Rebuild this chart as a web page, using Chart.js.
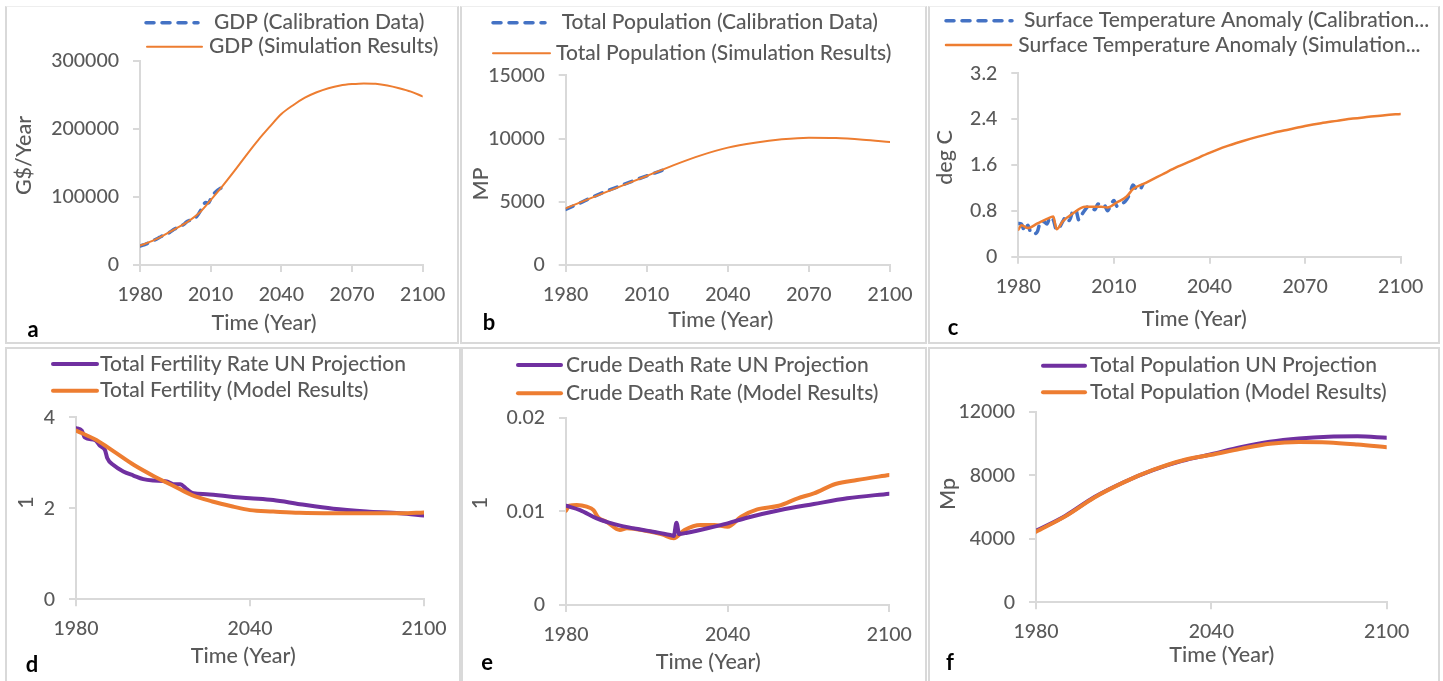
<!DOCTYPE html>
<html>
<head>
<meta charset="utf-8">
<title>Calibration and projection panels</title>
<script src="https://cdn.jsdelivr.net/npm/chart.js@4.4.1/dist/chart.umd.min.js"></script>
<style>
  html, body { margin: 0; padding: 0; background: #fff; }
  body { width: 1443px; height: 681px; position: relative; overflow: hidden; }
  .panel { position: absolute; box-sizing: border-box; border: 2px solid #d9d9d9; }
  .panel.top { border-top: 1px solid #eeeeee; }
  canvas { position: absolute; }
</style>
</head>
<body>
<script>
/* ---- data ---- */

// a: GDP (G$/Year)
const gdpDataYears = [1980, 1981, 1982, 1983, 1984, 1985, 1986, 1987, 1988, 1989, 1990, 1991, 1992, 1993, 1994, 1995, 1996, 1997, 1998,
  1999, 2000, 2001, 2002, 2003, 2004, 2005, 2006, 2007, 2008, 2009, 2010, 2011, 2012, 2013, 2014, 2015, 2016];
const gdpData = [28000, 29000, 30000, 31500, 33000, 35000, 36500, 38000, 40000, 42000, 43500, 44500, 46500, 49000, 51500, 53500, 55500,
  57500, 58500, 61000, 64000, 65500, 66500, 67500, 71000, 76000, 82000, 89000, 92000, 91000, 97000, 103000, 107000, 110000, 112500, 114000, 117000];
const gdpSimYears = [1980, 1985, 1990, 1995, 2000, 2005, 2010, 2015, 2020, 2025, 2030, 2035, 2040, 2045, 2050, 2055, 2060, 2065, 2070,
  2075, 2080, 2085, 2090, 2095, 2100];
const gdpSim = [28500, 35000, 43500, 53000, 63000, 76000, 95500, 116000, 138000, 161000, 183000, 203000, 222000, 235000, 246000,
  254000, 260000, 264000, 266000, 267000, 266500, 264000, 260000, 255000, 248000];

// b: total population (MP)
const popDataYears = [1980, 1985, 1990, 1995, 2000, 2005, 2010, 2015, 2018];
const popData = [4400, 4870, 5380, 5830, 6250, 6660, 7050, 7430, 7650];
const popSimYears = [1980, 1990, 2000, 2010, 2020, 2030, 2040, 2050, 2060, 2070, 2080, 2090, 2100];
const popSim = [4480, 5350, 6200, 7040, 7900, 8670, 9280, 9670, 9940, 10070, 10040, 9910, 9730];

// c: surface temperature anomaly (deg C)
const tempDataYears = [1980, 1981, 1982, 1983, 1984, 1985, 1986, 1987, 1988, 1989, 1990, 1991, 1992, 1993, 1994, 1995, 1996, 1997,
  1998, 1999, 2000, 2001, 2002, 2003, 2004, 2005, 2006, 2007, 2008, 2009, 2010, 2011, 2012, 2013, 2014, 2015, 2016, 2017, 2018, 2019];
const tempData = [0.58, 0.57, 0.44, 0.55, 0.41, 0.40, 0.44, 0.61, 0.61, 0.57, 0.69, 0.64, 0.47, 0.52, 0.62, 0.70, 0.63, 0.78, 0.82,
  0.64, 0.74, 0.82, 0.88, 0.86, 0.82, 0.92, 0.88, 0.90, 0.80, 0.90, 0.98, 0.88, 0.92, 0.94, 1.00, 1.10, 1.25, 1.18, 1.16, 1.25];
const tempSimYears = [1980, 1981, 1983, 1986, 1989, 1991, 1992, 1994, 1997, 2001, 2006, 2008, 2011, 2014, 2016, 2020, 2025, 2030,
  2035, 2040, 2045, 2050, 2055, 2060, 2065, 2070, 2075, 2080, 2085, 2090, 2095, 2100];
const tempSim = [0.47, 0.55, 0.50, 0.58, 0.66, 0.70, 0.48, 0.62, 0.75, 0.87, 0.87, 0.86, 0.95, 1.05, 1.18, 1.29, 1.43, 1.57,
  1.69, 1.81, 1.92, 2.01, 2.09, 2.16, 2.22, 2.28, 2.33, 2.37, 2.41, 2.44, 2.47, 2.49];

// d: total fertility rate (1)
const tfrUnYears = [1980, 1982, 1983, 1986.6, 1988.3, 1990, 1990.8, 1992.9, 1996.3, 1999.8, 2003.2, 2006.7, 2011.3, 2013.6, 2015.9,
  2018.2, 2020.5, 2025, 2034.3, 2040, 2048, 2057.2, 2068.7, 2080.2, 2091.7, 2100];
const tfrUn = [3.76, 3.71, 3.56, 3.50, 3.37, 3.28, 3.10, 2.95, 2.81, 2.72, 2.64, 2.61, 2.59, 2.53, 2.53, 2.42, 2.33, 2.31, 2.25,
  2.22, 2.18, 2.09, 1.99, 1.93, 1.89, 1.84];
const tfrModelYears = [1980, 1987, 1993, 2000, 2007, 2014, 2020, 2027, 2034, 2040, 2048, 2057, 2069, 2080, 2092, 2100];
const tfrModel = [3.71, 3.50, 3.25, 2.95, 2.70, 2.48, 2.29, 2.15, 2.04, 1.96, 1.93, 1.90, 1.89, 1.89, 1.89, 1.91];

// e: crude death rate (1)
const cdrUnYears = [1980, 1985.2, 1991.4, 2000.1, 2010, 2018.7, 2020, 2021, 2022, 2025, 2032.5, 2040, 2047.2, 2059.6, 2072, 2084.4, 2100];
const cdrUn = [0.0106, 0.01014, 0.00925, 0.00847, 0.00794, 0.00747, 0.00737, 0.00879, 0.00758, 0.00772, 0.00819, 0.00872, 0.00932,
  0.01014, 0.01078, 0.01139, 0.01189];
const cdrModelYears = [1980, 1981.2, 1984, 1987.7, 1990.2, 1992, 1995, 2000, 2002.6, 2010, 2015.6, 2020, 2024, 2030, 2035, 2040,
  2045, 2051, 2059, 2066, 2072, 2080, 2088, 2100];
const cdrModel = [0.01007, 0.0106, 0.01068, 0.0105, 0.01014, 0.00932, 0.0089, 0.00801, 0.00819, 0.0079, 0.00754, 0.00712, 0.00801,
  0.00854, 0.00854, 0.00836, 0.00943, 0.01021, 0.0106, 0.01139, 0.01192, 0.01292, 0.01335, 0.01388];

// f: total population, UN projection vs model (Mp)
const popUnYears = [1980, 1990, 2000, 2010, 2020, 2030, 2040, 2050, 2060, 2070, 2080, 2090, 2100];
const popUn = [4500, 5440, 6630, 7560, 8320, 8900, 9320, 9760, 10110, 10320, 10430, 10450, 10360];
const popModelYears = popUnYears;
const popModel = [4440, 5410, 6600, 7550, 8330, 8930, 9290, 9660, 9980, 10090, 10060, 9930, 9760];

// tick values
const xTicksFine = [1980, 2010, 2040, 2070, 2100];
const xTicksCoarse = [1980, 2040, 2100];
const gdpTicks = [0, 100000, 200000, 300000];
const popTicks = [0, 5000, 10000, 15000];
const tempTicks = [0, 0.8, 1.6, 2.4, 3.2];
const tfrTicks = [0, 2, 4];
const cdrTicks = [0, 0.01, 0.02];
const popUnTicks = [0, 4000, 8000, 12000];

/* ---- styling ---- */
const BLUE = '#4472c4';
const ORANGE = '#ed7d31';
const PURPLE = '#7030a0';
const TEXT = '#595959';
const AXIS = '#d9d9d9';
const FONT = 'Lato';
const WEIGHT = 500;

const pts = (xs, ys) => xs.map((x, i) => ({ x, y: ys[i] }));

/* Legend, axis titles and panel letter, drawn at fixed page positions. */
const panelText = {
  id: 'panelText',
  afterDraw(chart, args, o) {
    const ctx = chart.ctx;
    const ox = o.ox, oy = o.oy;
    ctx.save();
    ctx.font = `${WEIGHT} 21px ${FONT}`;
    ctx.textBaseline = 'middle';
    chart.data.datasets.forEach((ds, i) => {
      const it = o.legend[i];
      ctx.beginPath();
      ctx.strokeStyle = ds.borderColor;
      ctx.lineWidth = ds.borderWidth;
      ctx.lineCap = ds.borderCapStyle;
      ctx.setLineDash(ds.borderDash || []);
      ctx.moveTo(it.x1 - ox, it.y - oy);
      ctx.lineTo(it.x2 - ox, it.y - oy);
      ctx.stroke();
      ctx.setLineDash([]);
      // Excel-style truncation: drop whole words and add an ellipsis
      let text = ds.label;
      if (o.maxRight && ctx.measureText(text).width > o.maxRight - it.tx) {
        const words = text.split(' ');
        while (words.length > 1 && ctx.measureText(words.join(' ') + '...').width > o.maxRight - it.tx) words.pop();
        text = words.join(' ') + '...';
      }
      ctx.fillStyle = TEXT;
      ctx.textAlign = 'left';
      ctx.fillText(text, it.tx - ox, it.y - oy);
    });
    ctx.font = `${WEIGHT} 21.5px ${FONT}`;
    ctx.textAlign = 'center';
    ctx.fillStyle = TEXT;
    ctx.fillText(o.xTitle, o.xt[0] - ox, o.xt[1] - oy);
    ctx.save();
    ctx.translate(o.yt[0] - ox, o.yt[1] - oy);
    ctx.rotate(-Math.PI / 2);
    ctx.fillText(o.yTitle, 0, 0);
    ctx.restore();
    ctx.font = `bold 22px ${FONT}`;
    ctx.fillStyle = '#000';
    ctx.fillText(o.letter, o.lt[0] - ox, o.lt[1] - oy);
    ctx.restore();
  }
};

function series(label, xs, ys, color, width, dash, order) {
  return {
    label, data: pts(xs, ys), borderColor: color, borderWidth: width,
    borderDash: dash || [], borderCapStyle: 'round',
    pointRadius: 0, fill: false, cubicInterpolationMode: 'monotone', order
  };
}

function makePanel(p) {
  const div = document.createElement('div');
  div.className = 'panel' + (p.top ? ' top' : '');
  Object.assign(div.style, { left: p.box.x + 'px', top: p.box.y + 'px', width: p.box.w + 'px', height: p.box.h + 'px' });
  document.body.appendChild(div);

  const cv = document.createElement('canvas');
  cv.width = p.box.w;
  cv.height = p.box.h;
  cv.style.left = p.box.x + 'px';
  cv.style.top = p.box.y + 'px';
  document.body.appendChild(cv);

  const tickFont = { family: FONT, size: 19.5, weight: WEIGHT };
  new Chart(cv, {
    type: 'line',
    data: { datasets: p.datasets },
    plugins: [panelText],
    options: {
      responsive: false,
      animation: false,
      devicePixelRatio: 1,
      events: [],
      layout: { padding: { left: 0, top: p.plot.t - p.box.y, right: p.box.x + p.box.w - p.plot.r, bottom: 0 } },
      plugins: {
        legend: { display: false },
        tooltip: { enabled: false },
        panelText: {
          ox: p.box.x, oy: p.box.y, legend: p.legend, maxRight: p.maxRight,
          xTitle: 'Time (Year)', xt: p.xt, yTitle: p.yTitle, yt: p.yt, letter: p.letter, lt: p.lt
        }
      },
      scales: {
        x: {
          type: 'linear', min: 1980, max: 2100,
          afterBuildTicks: s => { s.ticks = p.xTicks.map(v => ({ value: v })); },
          afterFit: s => { s.height = p.box.y + p.box.h - p.plot.b; },
          border: { color: AXIS, width: 2 },
          grid: { drawOnChartArea: false, drawTicks: true, tickLength: 7, color: AXIS, lineWidth: 2 },
          ticks: { font: tickFont, color: TEXT, padding: 11, maxRotation: 0, autoSkip: false, callback: v => String(v) }
        },
        y: {
          type: 'linear', min: p.yTicks[0], max: p.yTicks[p.yTicks.length - 1],
          afterBuildTicks: s => { s.ticks = p.yTicks.map(v => ({ value: v })); },
          afterFit: s => { s.width = p.plot.l - p.box.x; },
          border: { color: AXIS, width: 2 },
          grid: { drawOnChartArea: false, drawTicks: true, tickLength: 7, color: AXIS, lineWidth: 2 },
          ticks: { font: tickFont, color: TEXT, padding: 14, autoSkip: false, callback: v => String(v) }
        }
      }
    }
  });
}

const DASH = [8, 8];

makePanel({
  top: true, letter: 'a',
  box: { x: 5, y: 6, w: 454, h: 338 },
  plot: { l: 140, t: 61, r: 422.7, b: 265 },
  xTicks: xTicksFine, yTicks: gdpTicks,
  yTitle: 'G$/Year', yt: [24, 155.5], xt: [264, 323], lt: [33, 330],
  legend: [{ x1: 146, x2: 198, tx: 214, y: 22.7 }, { x1: 147, x2: 202, tx: 209, y: 46.7 }],
  datasets: [
    series('GDP (Calibration Data)', gdpDataYears, gdpData, BLUE, 3.5, DASH, 1),
    series('GDP (Simulation Results)', gdpSimYears, gdpSim, ORANGE, 2, null, 0)
  ]
});

makePanel({
  top: true, letter: 'b',
  box: { x: 460, y: 6, w: 467, h: 338 },
  plot: { l: 565.7, t: 75.3, r: 890, b: 265 },
  xTicks: xTicksFine, yTicks: popTicks,
  yTitle: 'MP', yt: [481, 184], xt: [720.7, 320], lt: [489, 323],
  legend: [{ x1: 493, x2: 545, tx: 561.7, y: 22.7 }, { x1: 493, x2: 550, tx: 556, y: 53.3 }],
  datasets: [
    series('Total Population (Calibration Data)', popDataYears, popData, BLUE, 3.5, DASH, 1),
    series('Total Population (Simulation Results)', popSimYears, popSim, ORANGE, 2, null, 0)
  ]
});

makePanel({
  top: true, letter: 'c', maxRight: 1437,
  box: { x: 928, y: 6, w: 512, h: 338 },
  plot: { l: 1018.3, t: 73.3, r: 1400.7, b: 256.7 },
  xTicks: xTicksFine, yTicks: tempTicks,
  yTitle: 'deg C', yt: [945, 157.5], xt: [1194.3, 319.3], lt: [953, 328],
  legend: [{ x1: 946, x2: 1012, tx: 1024, y: 20.7 }, { x1: 946, x2: 1011, tx: 1018.3, y: 45 }],
  datasets: [
    series('Surface Temperature Anomaly (Calibration Data)', tempDataYears, tempData, BLUE, 3.5, DASH, 1),
    series('Surface Temperature Anomaly (Simulation Results)', tempSimYears, tempSim, ORANGE, 2.5, null, 0)
  ]
});

makePanel({
  letter: 'd',
  box: { x: 5, y: 347, w: 456, h: 340 },
  plot: { l: 76, t: 417.3, r: 424, b: 599.3 },
  xTicks: xTicksCoarse, yTicks: tfrTicks,
  yTitle: '1', yt: [26.5, 502.5], xt: [243.3, 656], lt: [32, 665],
  legend: [{ x1: 53, x2: 97, tx: 100, y: 364 }, { x1: 53, x2: 97, tx: 100, y: 390.7 }],
  datasets: [
    series('Total Fertility Rate UN Projection', tfrUnYears, tfrUn, PURPLE, 4, null, 1),
    series('Total Fertility (Model Results)', tfrModelYears, tfrModel, ORANGE, 4, null, 0)
  ]
});

makePanel({
  letter: 'e',
  box: { x: 461, y: 347, w: 466, h: 340 },
  plot: { l: 566, t: 417.7, r: 889.3, b: 605 },
  xTicks: xTicksCoarse, yTicks: cdrTicks,
  yTitle: '1', yt: [480, 503], xt: [708.3, 661.7], lt: [487, 663],
  legend: [{ x1: 518, x2: 561, tx: 566, y: 365 }, { x1: 518, x2: 561, tx: 566, y: 393.3 }],
  datasets: [
    series('Crude Death Rate UN Projection', cdrUnYears, cdrUn, PURPLE, 4, null, 0),
    series('Crude Death Rate (Model Results)', cdrModelYears, cdrModel, ORANGE, 4, null, 1)
  ]
});

makePanel({
  letter: 'f',
  box: { x: 928, y: 347, w: 512, h: 340 },
  plot: { l: 1036, t: 411.7, r: 1386.7, b: 602.3 },
  xTicks: xTicksCoarse, yTicks: popUnTicks,
  yTitle: 'Mp', yt: [948.5, 494], xt: [1221.7, 655], lt: [950, 663],
  legend: [{ x1: 1043, x2: 1085, tx: 1090, y: 365.7 }, { x1: 1043, x2: 1085, tx: 1090, y: 392.3 }],
  datasets: [
    series('Total Population UN Projection', popUnYears, popUn, PURPLE, 4, null, 1),
    series('Total Population (Model Results)', popModelYears, popModel, ORANGE, 4, null, 0)
  ]
});
</script>
</body>
</html>
